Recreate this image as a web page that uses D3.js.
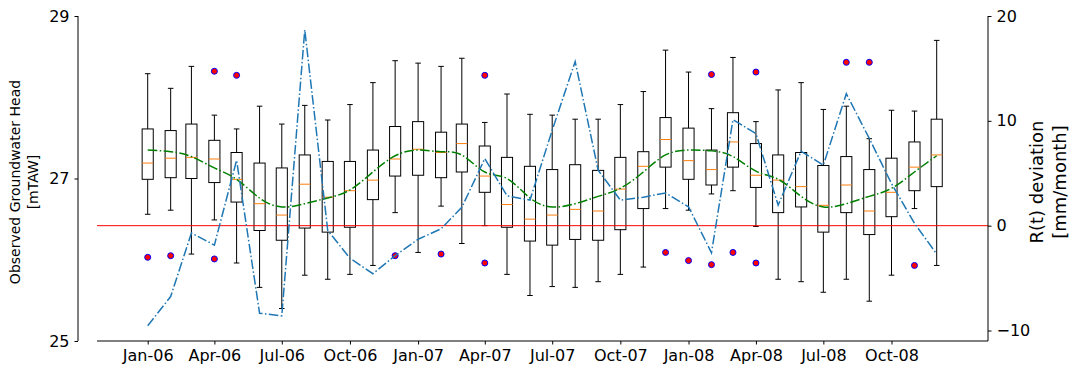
<!DOCTYPE html>
<html>
<head>
<meta charset="utf-8">
<script src="https://cdn.jsdelivr.net/npm/d3@7"></script>
<style>
  body { margin: 0; background: #fff; }
  svg { display: block; font-family: "DejaVu Sans", sans-serif; }
</style>
</head>
<body>
<div id="chart"></div>
<script>
// monthly boxes, Jan-06 .. Dec-08
const months = d3.range(36).map(i => new Date(Date.UTC(2006, i, 1)));

const whiskerHigh = [28.29, 28.11, 28.38, 27.78, 27.61, 27.89, 27.67, 27.90, 27.72, 27.91, 28.18, 28.45,
  28.42, 28.38, 28.48, 27.69, 28.04, 27.79, 27.78, 27.73, 27.73, 27.91, 28.07, 28.58,
  28.31, 27.86, 28.49, 27.70, 28.09, 28.18, 27.85, 27.89, 27.49, 27.84, 27.83, 28.70];
const q3 = [27.61, 27.59, 27.67, 27.47, 27.32, 27.19, 27.13, 27.29, 27.21, 27.21, 27.35, 27.64,
  27.70, 27.57, 27.67, 27.40, 27.26, 27.15, 27.11, 27.17, 27.10, 27.26, 27.33, 27.75,
  27.62, 27.35, 27.81, 27.43, 27.29, 27.32, 27.16, 27.27, 27.11, 27.25, 27.45, 27.73];
const medians = [27.19, 27.25, 27.26, 27.24, 26.99, 26.69, 26.55, 26.93, 26.77, 26.85, 26.98, 27.24,
  27.36, 27.32, 27.43, 27.03, 26.68, 26.50, 26.55, 26.62, 26.60, 26.87, 27.15, 27.48,
  27.22, 27.11, 27.45, 27.04, 26.98, 26.90, 26.67, 26.92, 26.60, 26.83, 27.14, 27.29];
const q1 = [26.99, 27.01, 27.00, 26.95, 26.71, 26.36, 26.24, 26.39, 26.34, 26.40, 26.74, 27.03,
  27.04, 27.01, 27.08, 26.83, 26.40, 26.23, 26.18, 26.25, 26.24, 26.37, 26.63, 27.14,
  26.99, 26.92, 27.14, 26.89, 26.58, 26.65, 26.34, 26.58, 26.31, 26.53, 26.85, 26.90];
const whiskerLow = [26.56, 26.61, 26.07, 26.49, 25.96, 25.66, 25.40, 25.81, 25.76, 25.82, 25.93, 26.58,
  26.09, 26.66, 26.20, 26.42, 25.82, 25.56, 25.67, 25.66, 25.73, 25.82, 25.91, 26.63,
  26.61, 26.81, 26.85, 26.41, 25.76, 25.73, 25.60, 25.76, 25.49, 25.81, 26.63, 25.93];

// outliers: [month index, head]
const fliers = [[0, 26.03], [1, 26.05], [3, 28.32], [3, 26.01], [4, 28.27], [11, 26.05], [13, 26.07],
  [15, 28.27], [15, 25.96], [23, 26.09], [24, 25.99], [25, 28.28], [25, 25.94], [26, 26.09],
  [27, 28.31], [27, 25.96], [31, 28.43], [32, 28.43], [34, 25.93]];

// seasonal head curve (left axis)
const seasonal = [27.35, 27.33, 27.27, 27.13, 26.99, 26.76, 26.65, 26.69, 26.76, 26.86, 27.08, 27.28,
  27.35, 27.33, 27.29, 27.08, 27.00, 26.76, 26.65, 26.69, 26.78, 26.88, 27.08, 27.29,
  27.35, 27.34, 27.27, 27.09, 26.99, 26.78, 26.65, 26.69, 26.78, 26.88, 27.08, 27.28];

// R(t) deviation [mm/month] (right axis)
const rDev = [-9.55, -6.76, -0.70, -1.85, 6.24, -8.35, -8.60, 18.68, -0.45, -3.11, -4.58, -2.86,
  -1.29, -0.30, 1.75, 6.40, 2.85, 2.44, 9.10, 15.66, 5.29, 2.44, 2.72, 3.12,
  1.80, -2.58, 10.11, 8.78, 1.96, 7.10, 5.77, 12.59, 8.32, 4.02, 0.22, -2.70];

const leftTicks = [25, 27, 29];
const rightTicks = [-10, 0, 10, 20];
const xTicks = d3.range(0, 36, 3).map(i => months[i]);

const width = 1077, height = 374;
const plot = { left: 97, right: 988, top: 16, bottom: 341 };
const leftSpineX = 78;

const svg = d3.select('#chart').append('svg')
  .attr('width', width).attr('height', height);

const x = d3.scaleTime()
  .domain([months[0], months[35]])
  .range([147.7, 936.7]);
const yL = d3.scaleLinear().domain([25, 29]).range([plot.bottom, plot.top]);
const yR = d3.scaleLinear().domain([-11, 20]).range([plot.bottom, plot.top]);

const boxW = x(new Date(Date.UTC(2006, 0, 16))) - x(months[0]);

// boxes
const boxes = svg.append('g')
  .selectAll('g')
  .data(months.map((d, i) => ({ d, i })))
  .join('g')
  .attr('transform', b => `translate(${x(b.d)},0)`);

boxes.append('line')
  .attr('y1', b => yL(whiskerHigh[b.i])).attr('y2', b => yL(q3[b.i]))
  .attr('stroke', '#000').attr('stroke-width', 1);
boxes.append('line')
  .attr('y1', b => yL(q1[b.i])).attr('y2', b => yL(whiskerLow[b.i]))
  .attr('stroke', '#000').attr('stroke-width', 1);
boxes.append('line')
  .attr('x1', -boxW / 4).attr('x2', boxW / 4)
  .attr('y1', b => yL(whiskerHigh[b.i])).attr('y2', b => yL(whiskerHigh[b.i]))
  .attr('stroke', '#000').attr('stroke-width', 1);
boxes.append('line')
  .attr('x1', -boxW / 4).attr('x2', boxW / 4)
  .attr('y1', b => yL(whiskerLow[b.i])).attr('y2', b => yL(whiskerLow[b.i]))
  .attr('stroke', '#000').attr('stroke-width', 1);
boxes.append('rect')
  .attr('x', -boxW / 2).attr('width', boxW)
  .attr('y', b => yL(q3[b.i]))
  .attr('height', b => yL(q1[b.i]) - yL(q3[b.i]))
  .attr('fill', 'none').attr('stroke', '#000').attr('stroke-width', 1);
boxes.append('line')
  .attr('x1', -boxW / 2).attr('x2', boxW / 2)
  .attr('y1', b => yL(medians[b.i])).attr('y2', b => yL(medians[b.i]))
  .attr('stroke', '#ff7f0e').attr('stroke-width', 1);

svg.append('g')
  .selectAll('circle')
  .data(fliers)
  .join('circle')
  .attr('cx', f => x(months[f[0]]))
  .attr('cy', f => yL(f[1]))
  .attr('r', 3)
  .attr('fill', '#ff0000')
  .attr('stroke', '#0000ff')
  .attr('stroke-width', 1);

// seasonal curve
svg.append('path')
  .datum(seasonal)
  .attr('d', d3.line().x((v, i) => x(months[i])).y(v => yL(v)).curve(d3.curveNatural))
  .attr('fill', 'none')
  .attr('stroke', '#008000')
  .attr('stroke-width', 1.5)
  .attr('stroke-dasharray', '9.6,2.4,1.5,2.4');

// zero line of right axis
svg.append('line')
  .attr('x1', plot.left).attr('x2', plot.right)
  .attr('y1', yR(0)).attr('y2', yR(0))
  .attr('stroke', '#ff0000').attr('stroke-width', 1);

svg.append('path')
  .datum(rDev)
  .attr('d', d3.line().x((v, i) => x(months[i])).y(v => yR(v)))
  .attr('fill', 'none')
  .attr('stroke', '#1f77b4')
  .attr('stroke-width', 1.5)
  .attr('stroke-dasharray', '9.6,2.4,1.5,2.4');

// axes
const xAxis = svg.append('g')
  .attr('transform', `translate(0,${plot.bottom})`)
  .call(d3.axisBottom(x).tickValues(xTicks).tickFormat(d3.utcFormat('%b-%y')).tickSize(3.5).tickPadding(5));
xAxis.select('.domain').attr('d', `M${plot.left},0H${plot.right}`);

const leftAxis = svg.append('g')
  .attr('transform', `translate(${leftSpineX},0)`)
  .call(d3.axisLeft(yL).tickValues(leftTicks).tickFormat(d3.format('d')).tickSize(3.5).tickPadding(5));
leftAxis.select('.domain').attr('d', `M0,${plot.top}V${plot.bottom}`);

const rightAxis = svg.append('g')
  .attr('transform', `translate(${plot.right},0)`)
  .call(d3.axisRight(yR).tickValues(rightTicks).tickFormat(d => d < 0 ? '\u2212' + Math.abs(d) : d).tickSize(3.5).tickPadding(5));
rightAxis.select('.domain').attr('d', `M0,${plot.top}V${plot.bottom}`);

svg.selectAll('.tick text').attr('font-size', 16).attr('font-family', '"DejaVu Sans", sans-serif').attr('fill', '#000');
svg.selectAll('.domain, .tick line').attr('stroke', '#000');

// axis titles
const leftTitle = svg.append('text')
  .attr('transform', 'translate(15,182) rotate(-90)')
  .attr('text-anchor', 'middle')
  .attr('font-size', 14);
leftTitle.append('tspan').attr('x', 0).attr('dy', '0.35em').text('Observed Groundwater Head');
leftTitle.append('tspan').attr('x', 0).attr('dy', '1.3em').text('[mTAW]');

const rightTitle = svg.append('text')
  .attr('transform', 'translate(1037,182) rotate(-90)')
  .attr('text-anchor', 'middle')
  .attr('font-size', 18);
rightTitle.append('tspan').attr('x', 0).attr('dy', '0.35em').text('R(t) deviation');
rightTitle.append('tspan').attr('x', 0).attr('dy', '1.28em').text('[mm/month]');
</script>
</body>
</html>
